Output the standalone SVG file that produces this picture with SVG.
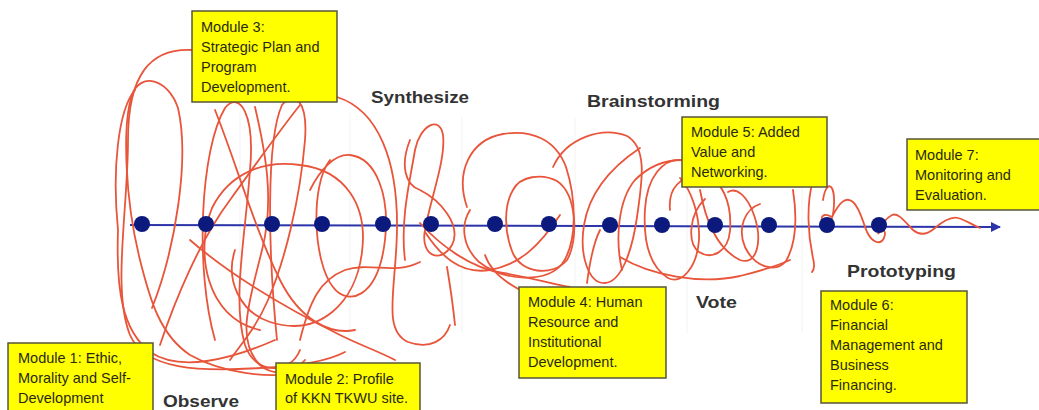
<svg xmlns="http://www.w3.org/2000/svg" width="1039" height="410" viewBox="0 0 1039 410">
<defs>
<marker id="ah" viewBox="0 0 10 10" refX="9" refY="5" markerWidth="5" markerHeight="5" orient="auto"><path d="M0,0 L10,5 L0,10 Z" fill="#2b34a8"/></marker>
<style>
.box{fill:#ffff00;stroke:#55553a;stroke-width:1.5}
.mt{font-family:"Liberation Sans",Arial,sans-serif;font-size:14.5px;fill:#2a2a14}
.lb{font-family:"Liberation Sans",Arial,sans-serif;font-size:17px;font-weight:bold;fill:#333}
.scr{fill:none;stroke:#e8553a;stroke-width:1.8;stroke-linecap:round}
.grid{stroke:#f3f3f3;stroke-width:1}
.dot{fill:#0c1a7e}
</style>
</defs>
<rect width="1039" height="410" fill="#ffffff"/>
<g id="grid">
<line class="grid" x1="240" y1="113" x2="240" y2="333"/>
<line class="grid" x1="350" y1="113" x2="350" y2="333"/>
<line class="grid" x1="462" y1="117" x2="462" y2="333"/>
<line class="grid" x1="575" y1="117" x2="575" y2="333"/>
<line class="grid" x1="687" y1="117" x2="687" y2="333"/>
<line class="grid" x1="802" y1="117" x2="802" y2="333"/>
</g>
<g id="connectors">
<line x1="130" y1="225" x2="1000" y2="227" stroke="#2b34a8" stroke-width="2" marker-end="url(#ah)"/>
<g id="scribble">
<path class="scr" d="M192,50 C150,48 128,75 128,140 C128,210 112,290 130,335 C145,370 200,372 260,368 C300,366 330,360 345,352"/>
<path class="scr" d="M152,308 C175,250 190,160 178,108 C168,78 140,72 132,95 C122,125 125,200 140,260 C150,300 160,335 190,355 C220,372 270,380 300,372"/>
<path class="scr" d="M118,230 C112,170 118,110 135,90 M118,230 C116,290 122,330 150,352 C180,372 230,360 275,340"/>
<path class="scr" d="M215,340 C195,270 200,150 225,108 C240,90 255,115 250,170 C245,240 232,300 245,345 C255,375 290,375 300,350"/>
<path class="scr" d="M277,340 C268,250 266,140 282,105 C294,90 308,100 305,140 C300,200 285,260 268,300 C255,330 240,345 230,360"/>
<path class="scr" d="M260,330 C205,318 195,250 212,208 C230,172 265,160 300,165 C345,170 368,205 362,252 C356,302 320,338 270,322 C240,312 225,280 235,250"/>
<path class="scr" d="M337,97 C378,110 398,160 397,230 C396,290 382,330 408,342 C430,350 445,340 450,325"/>
<path class="scr" d="M330,160 C310,185 313,262 333,287 C347,306 378,300 385,240 C390,195 376,158 350,155 C334,154 320,170 310,190"/>
<path class="scr" d="M405,260 C400,220 410,180 415,150 C420,125 440,115 443,135 C446,160 430,200 425,230 C420,255 440,265 452,245 C462,225 440,200 420,190 C405,185 400,165 410,140"/>
<path class="scr" d="M160,345 C175,300 200,240 230,200 C255,165 280,130 300,105"/>
<path class="scr" d="M190,240 C230,275 290,310 340,335 C360,345 380,352 395,360"/>
<path class="scr" d="M255,107 C265,150 275,200 262,250 C250,300 235,340 260,365 C275,378 295,372 305,360"/>
<path class="scr" d="M215,110 C235,160 255,230 280,280 C300,320 330,335 355,330"/>
<path class="scr" d="M300,340 C310,300 320,280 345,270 C370,262 395,275 420,262"/>
<path class="scr" d="M425,232 C440,255 460,275 490,270 C520,265 540,245 560,215"/>
<path class="scr" d="M467,207 C455,172 470,140 503,134 C532,129 556,140 566,167 C576,198 578,242 562,264 C546,283 505,282 479,262 C463,247 460,226 470,210"/>
<path class="scr" d="M513,190 C520,176 542,173 557,181 C578,195 578,242 567,260 C553,277 520,274 512,251 C504,230 504,205 513,190"/>
<path class="scr" d="M553,167 C566,138 602,126 627,136 C648,148 642,182 637,217 C632,252 621,282 605,283 C589,284 579,256 584,225 C589,194 610,168 640,148"/>
<path class="scr" d="M420,223 C440,245 470,268 503,273 C530,277 555,285 570,287"/>
<path class="scr" d="M447,267 C450,285 453,305 455,325"/>
<path class="scr" d="M520,290 C505,282 490,270 485,255"/>
<path class="scr" d="M587,283 C590,260 595,240 600,230"/>
<path class="scr" d="M682,160 C663,158 647,177 645,209 C643,242 649,266 668,278 C682,285 697,267 699,240 C700,214 691,190 680,178"/>
<path class="scr" d="M620,257 C650,275 700,285 740,276 C760,271 775,267 790,260"/>
<path class="scr" d="M670,210 C668,188 680,176 700,176 C723,176 732,205 730,231 C728,252 712,260 699,252 C687,243 689,214 705,199"/>
<path class="scr" d="M700,190 C705,217 715,248 740,260 C757,266 763,241 754,215 C747,195 736,187 728,192"/>
<path class="scr" d="M793,190 C797,216 797,242 786,261 C776,273 755,268 745,247 C737,228 745,209 760,204"/>
<path class="scr" d="M622,270 C615,240 618,200 635,180 C650,165 665,160 682,160"/>
<path class="scr" d="M813,180 C806,205 808,235 813,258 C815,266 814,270 812,272"/>
<path class="scr" d="M823,200 C826,180 835,182 834,205 C833,225 825,232 822,222 C820,212 828,215 832,217 C838,205 845,195 853,202 C860,208 862,220 867,232 C872,242 880,246 884,238 C887,230 882,228 878,234 C880,226 886,218 892,215 C898,212 905,222 913,230 C920,236 928,234 935,228 C942,222 950,216 958,218 C966,220 972,225 980,228"/>
</g>
</g>
<g id="dots">
<circle class="dot" cx="142" cy="224" r="8"/>
<circle class="dot" cx="206" cy="224" r="8"/>
<circle class="dot" cx="272" cy="224" r="8"/>
<circle class="dot" cx="322" cy="224" r="8"/>
<circle class="dot" cx="383" cy="224" r="8"/>
<circle class="dot" cx="431" cy="224" r="8"/>
<circle class="dot" cx="495" cy="224" r="8"/>
<circle class="dot" cx="549" cy="224" r="8"/>
<circle class="dot" cx="610" cy="225" r="8"/>
<circle class="dot" cx="662" cy="225" r="8"/>
<circle class="dot" cx="715" cy="225" r="8"/>
<circle class="dot" cx="769" cy="225" r="8"/>
<circle class="dot" cx="827" cy="225" r="8"/>
<circle class="dot" cx="879" cy="225" r="8"/>
</g>
<g id="module1"><rect class="box" x="8" y="343" width="145" height="72"/>
<text class="mt"><tspan x="18" y="363">Module 1: Ethic,</tspan><tspan x="18" y="383">Morality and Self-</tspan><tspan x="18" y="403">Development</tspan></text></g>
<g id="module2"><rect class="box" x="276" y="363" width="144" height="52"/>
<text class="mt"><tspan x="285" y="384">Module 2: Profile</tspan><tspan x="285" y="403">of KKN TKWU site.</tspan></text></g>
<g id="module3"><rect class="box" x="192" y="11" width="145" height="91"/>
<text class="mt"><tspan x="201" y="32">Module 3:</tspan><tspan x="201" y="52">Strategic Plan and</tspan><tspan x="201" y="72">Program</tspan><tspan x="201" y="92">Development.</tspan></text></g>
<g id="module4"><rect class="box" x="519" y="287" width="147" height="91"/>
<text class="mt"><tspan x="528" y="307">Module 4: Human</tspan><tspan x="528" y="327">Resource and</tspan><tspan x="528" y="347">Institutional</tspan><tspan x="528" y="367">Development.</tspan></text></g>
<g id="module5"><rect class="box" x="682" y="117" width="145" height="70"/>
<text class="mt"><tspan x="691" y="137">Module 5: Added</tspan><tspan x="691" y="157">Value and</tspan><tspan x="691" y="177">Networking.</tspan></text></g>
<g id="module6"><rect class="box" x="821" y="291" width="146" height="112"/>
<text class="mt"><tspan x="830" y="310">Module 6:</tspan><tspan x="830" y="330">Financial</tspan><tspan x="830" y="350">Management and</tspan><tspan x="830" y="370">Business</tspan><tspan x="830" y="390">Financing.</tspan></text></g>
<g id="module7"><rect class="box" x="907" y="139" width="135" height="71"/>
<text class="mt"><tspan x="915" y="160">Module 7:</tspan><tspan x="915" y="180">Monitoring and</tspan><tspan x="915" y="200">Evaluation.</tspan></text></g>
<g id="label-observe"><text class="lb" x="163" y="407" textLength="76" lengthAdjust="spacingAndGlyphs">Observe</text></g>
<g id="label-synthesize"><text class="lb" x="371" y="103" textLength="98" lengthAdjust="spacingAndGlyphs">Synthesize</text></g>
<g id="label-brainstorming"><text class="lb" x="587" y="107" textLength="133" lengthAdjust="spacingAndGlyphs">Brainstorming</text></g>
<g id="label-vote"><text class="lb" x="696" y="308" textLength="41" lengthAdjust="spacingAndGlyphs">Vote</text></g>
<g id="label-prototyping"><text class="lb" x="847" y="277" textLength="109" lengthAdjust="spacingAndGlyphs">Prototyping</text></g>
</svg>
